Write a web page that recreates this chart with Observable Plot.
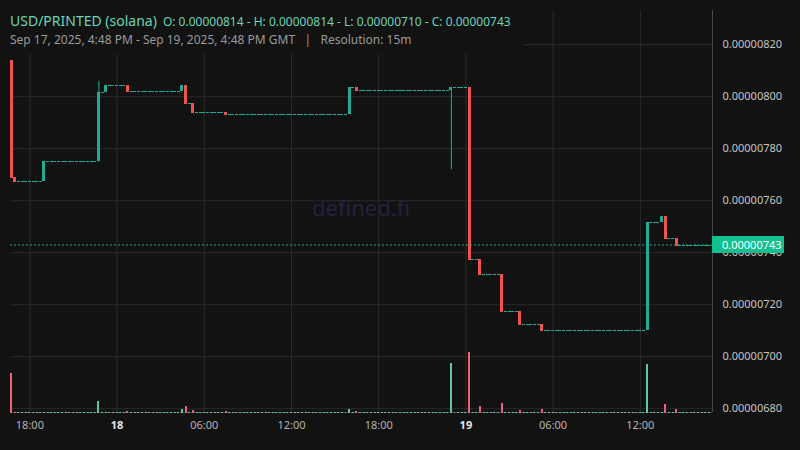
<!DOCTYPE html>
<html><head><meta charset="utf-8">
<script src="https://cdn.jsdelivr.net/npm/d3@7"></script>
<script src="https://cdn.jsdelivr.net/npm/@observablehq/plot@0.6"></script>
<style>
html,body{margin:0;padding:0;background:#121212;}
#wrap{position:relative;width:800px;height:450px;overflow:hidden;font-family:"Noto Sans",sans-serif;background:#121212;}
#wrap svg{position:absolute;left:0;top:0;}
#title{position:absolute;left:0;top:0;width:523px;height:54px;background:#121212;}
#l1{position:absolute;left:10px;top:10px;white-space:nowrap;color:#6ad5b8;line-height:20px;}
#l1 .sym{font-size:14px;}
#l1 .ohlc{font-size:12px;margin-left:6px;}
#l2{position:absolute;left:10px;top:31px;white-space:nowrap;color:#9a9a9a;font-size:12px;line-height:18px;}
#last{position:absolute;left:712px;width:72px;height:17px;background:#12c08f;color:#ffffff;font-size:11px;line-height:17px;padding-left:10px;box-sizing:border-box;}
#wm{position:absolute;left:0;top:0;width:722px;text-align:center;color:#26223d;font-size:22px;}
</style></head><body>
<div id="wrap"></div>
<script>
// ---- data (prices in units of 1e-8 USD) ----
const seriesStart = "2025-09-17T16:45Z";   // first 15m candle
const seriesEnd   = "2025-09-19T16:45Z";   // last 15m candle
const candleTimes = ["2025-09-17T16:45Z","2025-09-17T17:00Z","2025-09-17T19:00Z","2025-09-17T22:45Z","2025-09-17T23:15Z",
  "2025-09-18T00:45Z","2025-09-18T04:30Z","2025-09-18T04:45Z","2025-09-18T05:15Z","2025-09-18T07:30Z",
  "2025-09-18T16:00Z","2025-09-18T16:30Z","2025-09-18T23:00Z","2025-09-19T00:15Z","2025-09-19T01:00Z",
  "2025-09-19T02:30Z","2025-09-19T03:45Z","2025-09-19T05:15Z","2025-09-19T12:30Z","2025-09-19T13:30Z",
  "2025-09-19T13:45Z","2025-09-19T14:30Z"];
const opens  = [814,769,767.5,775,801.7,804.3,802.2,804.3,797.5,794,793.3,803.6,802.5,803.6,737.3,731.5,717.3,712.6,710,751.5,754,745.6];
const highs  = [814,769,775,806,804.3,804.3,804.3,804.3,797.5,794,803.6,803.6,803.6,803.6,737.3,731.5,717.3,712.6,751.5,754,754,745.6];
const lows   = [769,767.5,767.5,775,801.7,802.2,802.2,797.5,794,793.3,793.3,802.5,772,737.3,731.5,717.3,712.6,710,710,751.5,745.6,743];
const closes = [769,767.5,775,801.7,804.3,802.2,804.3,797.5,794,793.3,803.6,802.5,803.6,737.3,731.5,717.3,712.6,710,751.5,754,745.6,743];
const volumes= [3900,50,50,1100,50,100,300,600,200,100,300,100,4900,6000,600,900,200,300,4800,50,800,300];
const priceTicks = [680,700,720,740,760,780,800,820];
const hourTicks = ["2025-09-17T18:00Z","2025-09-18T06:00Z","2025-09-18T12:00Z","2025-09-18T18:00Z","2025-09-19T06:00Z","2025-09-19T12:00Z"];
const dayTicks  = ["2025-09-18T00:00Z","2025-09-19T00:00Z"];
const xDomain = ["2025-09-17T16:40Z","2025-09-19T16:58Z"];
const yDomain = [678.58, 833.19];
const volMax = 40200;

const E = 1e-8, M15 = 15*60e3;
const GREEN = "#22ab94", RED = "#ef5350", VGREEN = "#5cc8aa", VRED = "#e86479";

// active candles; quiet 15m periods are flat candles at the previous close with no volume
const active = new Map(candleTimes.map((t,i)=>[+new Date(t), {o:opens[i],h:highs[i],l:lows[i],c:closes[i],v:volumes[i]}]));
const data = [];
let prev = opens[0];
for (let t = +new Date(seriesStart); t <= +new Date(seriesEnd); t += M15) {
  const a = active.get(t);
  const d = a ? a : {o:prev,h:prev,l:prev,c:prev,v:0};
  prev = d.c;
  data.push({t:new Date(t), open:d.o*E, high:d.h*E, low:d.l*E, close:d.c*E, vol:d.v,
    color: d.c >= d.o ? GREEN : RED, vcolor: d.c >= d.o ? VGREEN : VRED});
}
const half = 6.2*60e3, vhalf = 4.1*60e3;
const xd = xDomain.map(s=>new Date(s));
const lastClose = data[data.length-1].close;

const common = {width:800, height:450, marginLeft:10, marginRight:88, marginTop:10, marginBottom:38,
  style:{background:"transparent", fontFamily:"Noto Sans, sans-serif", fontSize:"11px"}};

const price = Plot.plot({
  ...common,
  style:{...common.style, background:"#121212"},
  x:{type:"utc", domain:xd, axis:null, label:null},
  y:{domain:yDomain.map(v=>v*E), axis:null, label:null},
  marks:[
    Plot.ruleX([...hourTicks, ...dayTicks].map(s=>new Date(s)), {stroke:"#2b2b2b", strokeWidth:1}),
    Plot.ruleY(priceTicks.map(v=>v*E), {stroke:"#2b2b2b", strokeWidth:1}),
    Plot.ruleY([yDomain[0]*E], {stroke:"#464646"}),
    Plot.ruleX([xd[1]], {stroke:"#464646"}),
    Plot.axisY(priceTicks.map(v=>v*E), {anchor:"right", label:null, tickSize:0, tickPadding:10, tickFormat:d=>d.toFixed(8), fill:"#c4c4c4", fontSize:11}),
    Plot.axisX(hourTicks.map(s=>new Date(s)), {anchor:"bottom", label:null, tickSize:0, tickPadding:9, tickFormat:d3.utcFormat("%H:%M"), fill:"#b4b4b4", fontSize:11}),
    Plot.axisX(dayTicks.map(s=>new Date(s)), {anchor:"bottom", label:null, tickSize:0, tickPadding:9, tickFormat:d3.utcFormat("%-d"), fill:"#e6e6e6", fontWeight:"bold", fontSize:11}),
    Plot.ruleX(data.filter(d=>d.high>Math.max(d.open,d.close)||d.low<Math.min(d.open,d.close)),
      {x:"t", y1:"low", y2:"high", stroke:"color", strokeWidth:1}),
    Plot.rect(data, {x1:d=>new Date(+d.t-half), x2:d=>new Date(+d.t+half), y1:"open", y2:"close", fill:"color", shapeRendering:"crispEdges"}),
    Plot.ruleY(data, {x1:d=>new Date(+d.t-half), x2:d=>new Date(+d.t+half), y:"close", stroke:"color", strokeWidth:1, shapeRendering:"crispEdges"}),
    Plot.ruleY([lastClose], {stroke:GREEN, strokeDasharray:"2,2", strokeWidth:1})
  ]
});

const vol = Plot.plot({
  ...common,
  x:{type:"utc", domain:xd, axis:null, label:null},
  y:{domain:[0, volMax], axis:null, label:null},
  marks:[
    Plot.rect(data.filter(d=>d.vol>0), {x1:d=>new Date(+d.t-vhalf), x2:d=>new Date(+d.t+vhalf), y1:0, y2:"vol", fill:"vcolor", shapeRendering:"crispEdges"}),
    Plot.ruleY(data, {x1:d=>new Date(+d.t-vhalf), x2:d=>new Date(+d.t+vhalf), y:0, dy:-0.5, stroke:"vcolor", strokeWidth:1, shapeRendering:"crispEdges"})
  ]
});

const wrap = document.getElementById("wrap");
wrap.appendChild(price);
wrap.appendChild(vol);

const wm = document.createElement("div");
wm.id = "wm"; wm.textContent = "defined.fi"; wm.style.top = "192px";
wrap.appendChild(wm);

const f8 = v => (v*E).toFixed(8);
const O = opens[0], H = d3.max(highs), L = d3.min(lows), C = closes[closes.length-1];
const title = document.createElement("div");
title.id = "title";
title.innerHTML = `<div id="l1"><span class="sym">USD/PRINTED (solana)</span><span class="ohlc">O: ${f8(O)} - H: ${f8(H)} - L: ${f8(L)} - C: ${f8(C)}</span></div>
<div id="l2">Sep 17, 2025, 4:48 PM - Sep 19, 2025, 4:48 PM GMT &nbsp;&nbsp;|&nbsp;&nbsp; Resolution: 15m</div>`;
wrap.appendChild(title);

const yS = price.scale("y");
const last = document.createElement("div");
last.id = "last"; last.textContent = lastClose.toFixed(8);
last.style.top = (yS.apply(lastClose) - 8.5) + "px";
wrap.appendChild(last);
</script>
</body></html>
